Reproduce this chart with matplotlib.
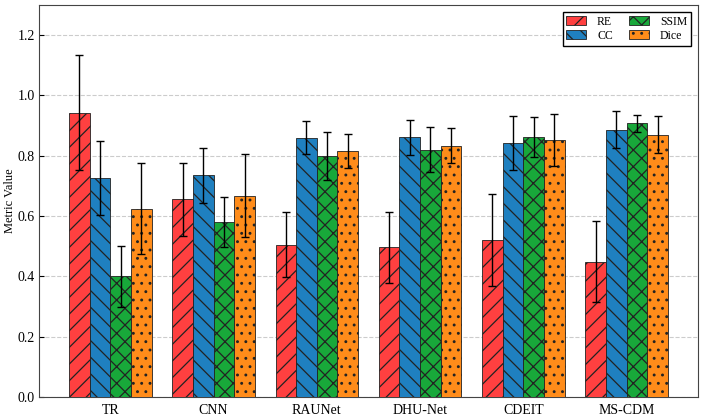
import matplotlib
matplotlib.use("Agg")
import matplotlib.pyplot as plt
import numpy as np

plt.rcParams['font.family'] = ['Liberation Serif', 'DejaVu Serif']
plt.rcParams['hatch.linewidth'] = 0.9

methods = ['TR', 'CNN', 'RAUNet', 'DHU-Net', 'CDEIT', 'MS-CDM']
metrics = ['RE', 'CC', 'SSIM', 'Dice']

re_mean = [0.943, 0.655, 0.505, 0.497, 0.520, 0.448]
re_std = [0.190, 0.122, 0.107, 0.118, 0.153, 0.134]
cc_mean = [0.727, 0.735, 0.860, 0.862, 0.842, 0.887]
cc_std = [0.123, 0.092, 0.055, 0.058, 0.090, 0.060]
ssim_mean = [0.400, 0.580, 0.800, 0.820, 0.862, 0.907]
ssim_std = [0.100, 0.082, 0.080, 0.075, 0.065, 0.028]
dice_mean = [0.625, 0.668, 0.816, 0.833, 0.852, 0.870]
dice_std = [0.150, 0.137, 0.057, 0.058, 0.085, 0.062]

means = [re_mean, cc_mean, ssim_mean, dice_mean]
stds = [re_std, cc_std, ssim_std, dice_std]
colors = ['#FF4040', '#1F80C0', '#18A83A', '#FF8C1A']
hatches = ['//', '\\\\', 'xx', '..']

fig = plt.figure(figsize=(7.05, 4.16), dpi=100)
ax = fig.add_axes([0.0553, 0.0457, 0.9347, 0.9423])

x = np.arange(len(methods))
w = 0.2
for i in range(4):
    ax.bar(x + (i - 1.5) * w, means[i], w, yerr=stds[i], color=colors[i],
           hatch=hatches[i], edgecolor='#222222', linewidth=0.6,
           label=metrics[i], capsize=3,
           error_kw=dict(ecolor='black', elinewidth=1.0, capthick=1.0),
           zorder=3)

ax.set_ylim(0, 1.3)
ax.set_yticks([0.0, 0.2, 0.4, 0.6, 0.8, 1.0, 1.2])
ax.set_xticks(x)
ax.set_xticklabels(methods)
ax.tick_params(direction='in', labelsize=10)
ax.tick_params(axis='y', pad=3)
ax.tick_params(axis='x', length=0, pad=5)
ax.set_ylabel('Metric Value', fontsize=9, labelpad=1)
ax.yaxis.grid(True, linestyle='--', color='#cccccc', linewidth=0.8, zorder=0)
ax.set_axisbelow(True)
for s in ax.spines.values():
    s.set_color('#444444')

leg = ax.legend(ncol=2, loc='upper right', fontsize=8.5, fancybox=False,
                edgecolor='black', framealpha=1, handlelength=1.7,
                handleheight=0.8, columnspacing=1.4, handletextpad=0.9,
                borderpad=0.3, labelspacing=0.2, borderaxespad=0.6)
leg.get_frame().set_linewidth(1.0)

fig.savefig('out.png', dpi=100)
